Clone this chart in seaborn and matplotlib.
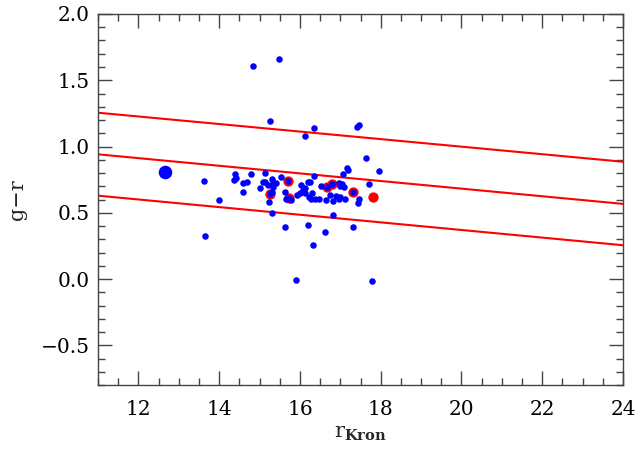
import numpy as np
import pandas as pd
import matplotlib
matplotlib.use("Agg")
import matplotlib.pyplot as plt
from matplotlib.ticker import MultipleLocator
import seaborn as sns

sns.set_style("ticks")
plt.rcParams['font.family'] = ['DejaVu Serif']
plt.rcParams['mathtext.fontset'] = 'dejavuserif'

# blue galaxies (r_Kron, g-r)
blue_x = [14.84, 15.49, 15.26, 16.35, 16.13, 17.41, 17.46, 17.63,
          13.62, 13.99, 13.64, 14.39, 14.42, 14.37, 14.58, 14.70, 14.79, 14.58,
          15.14, 15.01, 15.08, 15.14, 15.21, 15.30, 15.33, 15.33, 15.40, 15.31,
          15.52, 15.24, 15.32, 15.26, 15.62, 15.65, 15.77, 15.64, 15.92, 15.71,
          16.03, 16.08, 16.13, 16.00, 16.19, 16.25, 16.13, 16.31, 16.22, 16.28,
          16.37, 16.46, 16.34, 16.51, 16.65, 16.20, 16.33, 16.62, 15.91,
          16.66, 16.79, 16.74, 16.83, 16.89, 16.97, 16.99, 17.05, 17.08, 16.97,
          17.00, 17.12, 17.07, 17.17, 17.20, 17.31, 16.83, 17.31, 17.46, 17.44,
          17.72, 17.97, 17.79, 15.72]
blue_y = [1.61, 1.66, 1.19, 1.14, 1.08, 1.145, 1.16, 0.915,
          0.742, 0.594, 0.325, 0.79, 0.76, 0.747, 0.727, 0.73, 0.79, 0.654,
          0.80, 0.684, 0.732, 0.734, 0.709, 0.757, 0.722, 0.692, 0.727, 0.659,
          0.767, 0.583, 0.496, 0.642, 0.654, 0.601, 0.594, 0.39, 0.634, 0.737,
          0.707, 0.672, 0.689, 0.651, 0.730, 0.732, 0.647, 0.649, 0.616, 0.601,
          0.606, 0.601, 0.78, 0.704, 0.596, 0.405, 0.254, 0.357, -0.008,
          0.692, 0.717, 0.632, 0.586, 0.629, 0.722, 0.70, 0.715, 0.692, 0.601,
          0.619, 0.606, 0.79, 0.835, 0.823, 0.657, 0.48, 0.39, 0.606, 0.571,
          0.72, 0.815, -0.015, 0.609]

# red-sequence members
red_x = [15.26, 15.71, 15.72, 16.66, 16.79, 17.31, 17.82]
red_y = [0.642, 0.737, 0.609, 0.692, 0.717, 0.657, 0.617]

# brightest galaxy
bcg_x = [12.66]
bcg_y = [0.81]

# colour-magnitude relation and its limits
line_x = [11, 24]
line_top = [1.255, 0.885]
line_mid = [0.941, 0.567]
line_low = [0.629, 0.255]

fig = plt.figure(figsize=(6.38, 4.5), dpi=100)
ax = fig.add_axes([0.1536, 0.1444, 0.9765 - 0.1536, 0.9689 - 0.1444])

for ly in [line_top, line_mid, line_low]:
    sns.lineplot(x=line_x, y=ly, color="red", linewidth=1.5, ax=ax)

sns.scatterplot(x=red_x, y=red_y, color="red", s=55, linewidth=0, ax=ax, zorder=3)
sns.scatterplot(x=blue_x, y=blue_y, color="blue", s=22, linewidth=0, ax=ax, zorder=4)
sns.scatterplot(x=bcg_x, y=bcg_y, color="blue", s=95, linewidth=0, ax=ax, zorder=4)

ax.set_xlim(11, 24)
ax.set_ylim(-0.8, 2.0)
ax.xaxis.set_major_locator(MultipleLocator(2))
ax.xaxis.set_minor_locator(MultipleLocator(0.5))
ax.yaxis.set_major_locator(MultipleLocator(0.5))
ax.yaxis.set_minor_locator(MultipleLocator(0.1))
ax.yaxis.set_major_formatter(matplotlib.ticker.FuncFormatter(
    lambda v, p: ("\u2212" if v < -1e-9 else "") + "%.1f" % abs(v)))
ax.tick_params(which="both", direction="in", top=True, right=True,
               color="#444444", labelcolor="black", labelsize=14.5)
ax.tick_params(which="major", length=10, width=1)
ax.tick_params(which="minor", length=5, width=1)
ax.tick_params(axis="x", which="major", pad=11)
ax.tick_params(axis="y", which="major", pad=6)
for sp in ax.spines.values():
    sp.set_color("#444444")
    sp.set_linewidth(1)

ax.set_xlabel(r"r$_{\mathbf{Kron}}$", fontsize=15)
ax.set_ylabel("g\u2212r", fontsize=15)
ax.xaxis.set_label_coords(0.5, -0.105)
ax.yaxis.set_label_coords(-0.135, 0.5)

fig.savefig("out.png", dpi=100)
